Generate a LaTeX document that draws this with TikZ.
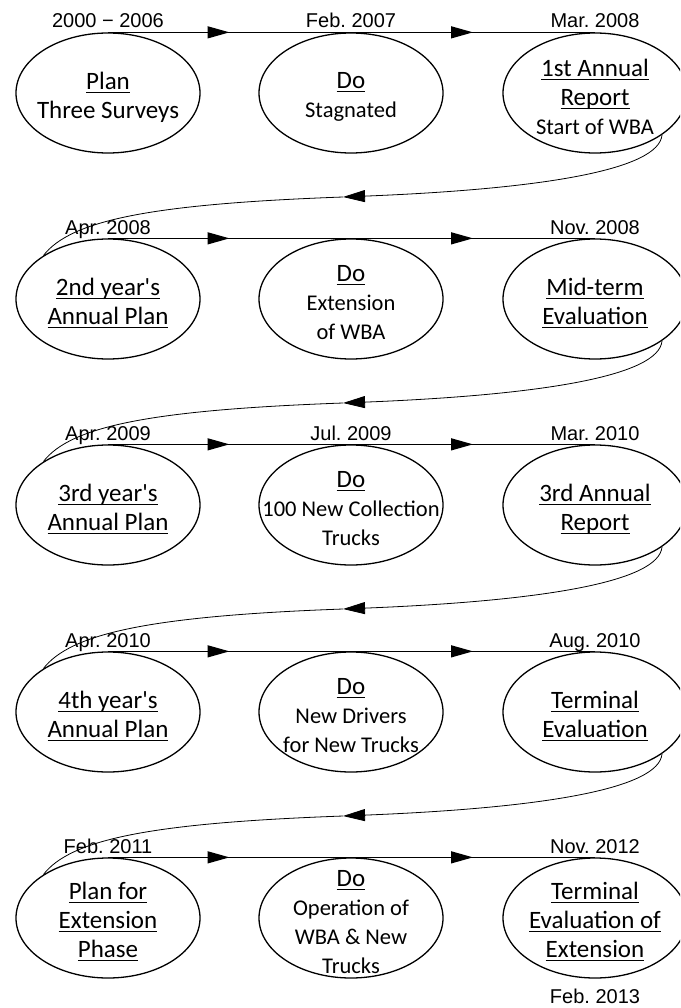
\documentclass[tikz,border=0pt]{standalone}
\usepackage{fontspec}
\setmainfont{Carlito}[Ligatures=TeXOff]
\newfontfamily\datefont{Liberation Sans}[Ligatures=TeXOff]
\usetikzlibrary{shapes.geometric,arrows.meta,decorations.markings}
\newsavebox\ulbox
\newcommand\uln[1]{\sbox\ulbox{#1}\rlap{\rule[-3.5pt]{\wd\ulbox}{1pt}}\usebox\ulbox}
\newcommand\subf{\fontsize{22.5}{28}\selectfont}
\frenchspacing
\begin{document}
\begin{tikzpicture}[x=1pt,y=-1pt,
  stage/.style={draw, line width=1.3pt, ellipse, minimum width=184pt, minimum height=120pt, inner sep=0pt},
  lbl/.style={align=center, font=\fontsize{25}{29}\selectfont, inner sep=0pt, yshift=-4pt},
  datel/.style={font=\datefont\fontsize{20}{24}\selectfont, anchor=base, inner sep=0pt},
  flow/.style={line width=1.3pt, postaction={decorate}, decoration={markings, mark=at position 0.5 with {\arrow{Triangle[length=22pt,width=12pt]}}}},
  ret/.style={line width=0.8pt},
  rettip/.style={ret, -{Triangle[length=22pt,width=12pt]}}]
\useasboundingbox (0,0) rectangle (680,1008);
\clip (0,0) rectangle (680,1008);

% ---------- Row 1
\node[stage] (L1) at (108,93) {};
\node[stage] (M1) at (351,93) {};
\node[stage] (R1) at (595,93) {};
\node[lbl] (L1t) at (L1) {\uln{Plan}\\Three Surveys};
\node[lbl] (M1t) at (M1) {\uln{Do}\\{\subf Stagnated}};
\node[lbl] (R1t) at (R1) {\uln{1st Annual}\\\uln{Report}\\{\subf Start of WBA}};
\node[datel] (D1a) at (108,28) {2000 − 2006};
\node[datel] (D1b) at (351,28) {Feb. 2007};
\node[datel] (D1c) at (595,28) {Mar. 2008};
\draw[flow] (L1.north) -- (M1.north);
\draw[flow] (M1.north) -- (R1.north);

% ---------- Row 2
\node[stage] (L2) at (108,299) {};
\node[stage] (M2) at (351,299) {};
\node[stage] (R2) at (595,299) {};
\node[lbl] (L2t) at (L2) {\uln{2nd year's}\\\uln{Annual Plan}};
\node[lbl] (M2t) at (M2) {\uln{Do}\\{\subf Extension}\\{\subf of WBA}};
\node[lbl] (R2t) at (R2) {\uln{Mid-term}\\\uln{Evaluation}};
\node[datel] (D2a) at (108,234) {Apr. 2008};
\node[datel] (D2c) at (595,234) {Nov. 2008};
\draw[flow] (L2.north) -- (M2.north);
\draw[flow] (M2.north) -- (R2.north);

% ---------- Row 3
\node[stage] (L3) at (108,505) {};
\node[stage] (M3) at (351,505) {};
\node[stage] (R3) at (595,505) {};
\node[lbl] (L3t) at (L3) {\uln{3rd year's}\\\uln{Annual Plan}};
\node[lbl] (M3t) at (M3) {\uln{Do}\\{\subf 100 New Collection}\\{\subf Trucks}};
\node[lbl] (R3t) at (R3) {\uln{3rd Annual}\\\uln{Report}};
\node[datel] (D3a) at (108,440) {Apr. 2009};
\node[datel] (D3b) at (351,440) {Jul. 2009};
\node[datel] (D3c) at (595,440) {Mar. 2010};
\draw[flow] (L3.north) -- (M3.north);
\draw[flow] (M3.north) -- (R3.north);

% ---------- Row 4
\node[stage] (L4) at (108,712) {};
\node[stage] (M4) at (351,712) {};
\node[stage] (R4) at (595,712) {};
\node[lbl] (L4t) at (L4) {\uln{4th year's}\\\uln{Annual Plan}};
\node[lbl] (M4t) at (M4) {\uln{Do}\\{\subf New Drivers}\\{\subf for New Trucks}};
\node[lbl] (R4t) at (R4) {\uln{Terminal}\\\uln{Evaluation}};
\node[datel] (D4a) at (108,647) {Apr. 2010};
\node[datel] (D4c) at (595,647) {Aug. 2010};
\draw[flow] (L4.north) -- (M4.north);
\draw[flow] (M4.north) -- (R4.north);

% ---------- Row 5
\node[stage] (L5) at (108,918) {};
\node[stage] (M5) at (351,918) {};
\node[stage] (R5) at (595,918) {};
\node[lbl] (L5t) at (L5) {\uln{Plan for}\\\uln{Extension}\\\uln{Phase}};
\node[lbl] (M5t) at (M5) {\uln{Do}\\{\subf Operation of}\\{\subf WBA \& New}\\{\subf Trucks}};
\node[lbl] (R5t) at (R5) {\uln{Terminal}\\\uln{Evaluation of}\\\uln{Extension}};
\node[datel] (D5a) at (108,853) {Feb. 2011};
\node[datel] (D5c) at (595,853) {Nov. 2012};
\node[datel] (D5d) at (595,1003) {Feb. 2013};
\draw[flow] (L5.north) -- (M5.north);
\draw[flow] (M5.north) -- (R5.north);

% ---------- Return connectors
\coordinate (C1) at (343,197);
\coordinate (C2) at (343,403);
\coordinate (C3) at (343,609);
\coordinate (C4) at (343,816);
\draw[rettip] (R1.-32) .. controls +(-3,35) and +(200,-8) .. (C1);
\draw[ret] (C1) .. controls +(-193,7) and +(27,-35) .. (L2.146);
\draw[rettip] (R2.-32) .. controls +(-3,35) and +(200,-8) .. (C2);
\draw[ret] (C2) .. controls +(-193,7) and +(27,-35) .. (L3.146);
\draw[rettip] (R3.-32) .. controls +(-3,35) and +(200,-8) .. (C3);
\draw[ret] (C3) .. controls +(-193,7) and +(27,-35) .. (L4.146);
\draw[rettip] (R4.-32) .. controls +(-3,35) and +(200,-8) .. (C4);
\draw[ret] (C4) .. controls +(-193,7) and +(27,-35) .. (L5.146);
\end{tikzpicture}
\end{document}
